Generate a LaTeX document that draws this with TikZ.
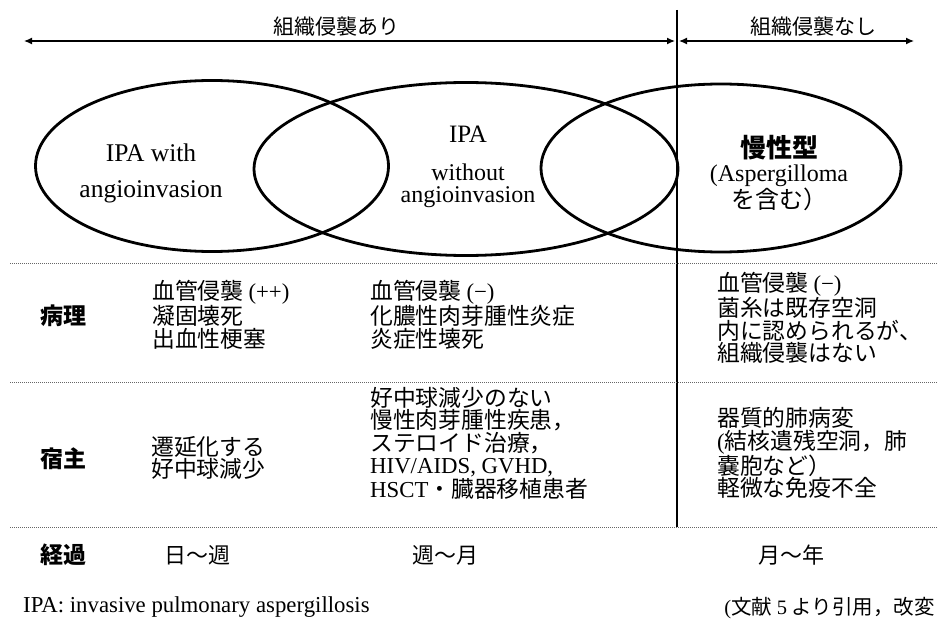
\documentclass[tikz,border=0pt]{standalone}
\usepackage{fontspec}
\setmainfont{Liberation Serif}
\newfontfamily\jp{Noto Sans CJK JP}
\usetikzlibrary{arrows.meta,shapes.geometric}
\newcommand\latn[1]{{\rmfamily #1}}
\begin{document}
\begin{tikzpicture}[x=1pt,y=-1pt,
  ellbox/.style={draw, ellipse, line width=2.8pt, inner sep=0pt},
  cell/.style={anchor=west, align=left, inner sep=0pt, font=\jp\fontsize{22.8}{22.5}\selectfont},
  rowlab/.style={anchor=west, inner sep=0pt, font=\jp\bfseries\fontsize{23}{23}\selectfont},
  sepline/.style={line width=0.9pt, black!60, dash pattern=on 1pt off 1pt},
  dblarrow/.style={line width=1.3pt, {Latex[length=8pt,width=7pt]}-{Latex[length=8pt,width=7pt]}},
  vline/.style={line width=1.2pt},
  toplab/.style={inner sep=0pt, font=\jp\fontsize{21}{21}\selectfont},
  elltext/.style={inner sep=0pt, align=center},
  timelab/.style={inner sep=0pt, font=\jp\fontsize{22}{22}\selectfont}
]
\useasboundingbox (0,0) rectangle (937,623);

% top arrows and labels
\coordinate (aL) at (24,41);
\coordinate (aR) at (675,41);
\coordinate (bL) at (679,41);
\coordinate (bR) at (914,41);
\draw[dblarrow] (aL) -- (aR);
\draw[dblarrow] (bL) -- (bR);
\node[toplab] (tl1) at (336,27) {組織侵襲あり};
\node[toplab] (tl2) at (813,27) {組織侵襲なし};

% vertical divider
\coordinate (v1) at (677,10);
\coordinate (v2) at (677,527);
\draw[vline] (v1) -- (v2);

% ellipses
\node[ellbox, minimum width=353, minimum height=171] (e1) at (212,166) {};
\node[ellbox, minimum width=424, minimum height=173] (e2) at (466,169) {};
\node[ellbox, minimum width=360, minimum height=168] (e3) at (721,168) {};

\node[elltext, font=\fontsize{25.5}{36}\selectfont] (t1) at (151,173) {IPA with\\angioinvasion};
\node[elltext, font=\fontsize{25}{24}\selectfont] (t2a) at (468,134) {IPA};
\node[elltext, font=\fontsize{24}{22}\selectfont] (t2b) at (468,186) {without\\angioinvasion};
\node[elltext, font=\fontsize{24}{24.5}\selectfont] (t3) at (779,173)
  {{\jp\bfseries\fontsize{26}{24.5}\selectfont 慢性型}\\(Aspergilloma\\{\jp を含む）}};

% separators
\coordinate (d1a) at (10,263); \coordinate (d1b) at (937,263);
\coordinate (d2a) at (10,382); \coordinate (d2b) at (937,382);
\coordinate (d3a) at (10,527); \coordinate (d3b) at (937,527);
\draw[sepline] (d1a) -- (d1b);
\draw[sepline] (d2a) -- (d2b);
\draw[sepline] (d3a) -- (d3b);

% row: pathology
\node[rowlab] (r1) at (40,316) {病理};
\node[cell] (c11) at (152,315) {血管侵襲 \latn{(++)}\\凝固壊死\\出血性梗塞};
\node[cell] (c12) at (370,315) {血管侵襲 \latn{(−)}\\化膿性肉芽腫性炎症\\炎症性壊死};
\node[cell] (c13) at (717,318) {血管侵襲 \latn{(−)}\\菌糸は既存空洞\\内に認められるが、\\組織侵襲はない};

% row: host
\node[rowlab] (r2) at (40,459) {宿主};
\node[cell] (c21) at (151,458) {遷延化する\\好中球減少};
\node[cell] (c22) at (370,443) {好中球減少のない\\慢性肉芽腫性疾患，\\ステロイド治療，\\\latn{HIV/AIDS, GVHD,}\\\latn{HSCT}・臓器移植患者};
\node[cell] (c23) at (717,453) {器質的肺病変\\\latn{(}結核遺残空洞，肺\\嚢胞など）\\軽微な免疫不全};

% row: course
\node[rowlab] (r3) at (40,555) {経過};
\node[timelab] (c31) at (197,555) {日〜週};
\node[timelab] (c32) at (445,555) {週〜月};
\node[timelab] (c33) at (791,555) {月〜年};

% footer
\node[anchor=west, inner sep=0pt, font=\fontsize{22.8}{22}\selectfont] (f1) at (23,607) {IPA: invasive pulmonary aspergillosis};
\node[anchor=east, inner sep=0pt, font=\jp\fontsize{20.5}{20}\selectfont] (f2) at (935,608) {\latn{(}文献 \latn{5} より引用，改変};
\end{tikzpicture}
\end{document}
